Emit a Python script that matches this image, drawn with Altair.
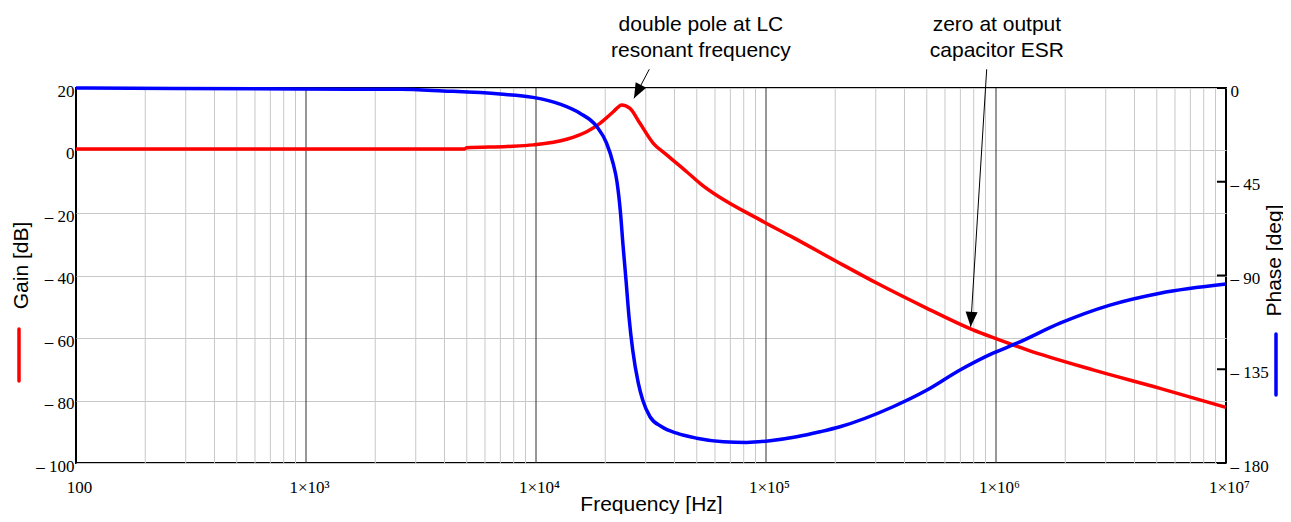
import altair as alt
import pandas as pd

# ---------------- data ----------------
gain_freq = [100, 1000, 4900, 5000, 7480, 9727, 13600, 16600, 18970, 21680,
             23580, 25630, 28310, 32360, 36990, 45190, 51640, 94190, 130900, 203700,
             304100, 501000, 794000, 1009000, 1365000, 2642000, 5164000, 10000000]
gain_db = [0.5, 0.5, 0.5, 0.9, 1.3, 1.8, 3.6, 6.0, 8.7, 12.4,
           14.6, 13.5, 8.7, 2.3, -1.4, -6.8, -10.5, -22.2, -27.8, -35.6,
           -42.5, -50.5, -57.4, -60.3, -63.8, -70.2, -76.1, -82.2]

phase_freq = [100, 942, 2564, 3945, 6966, 9705, 12706, 15524, 18408,
              20256, 21616, 22500, 23302, 23894, 24622, 25370, 26330, 27849, 29101,
              31302, 35198, 40898, 49957, 65223, 82450, 104090, 136000, 171700, 209720,
              356630, 501190, 697430, 970500, 1233800, 1897700, 3130200, 5164200, 10000000]
phase_deg = [0, -0.5, -0.6, -1.4, -2.9, -4.5, -7.7, -12.1, -18.6,
             -26.4, -36.0, -45.1, -60.0, -75.4, -92.2, -109.8, -125.8, -141.7, -149.8,
             -157.8, -162.6, -165.7, -168.1, -169.8, -170.1, -169.3, -167.4, -165.0, -162.6,
             -153.0, -145.0, -135.4, -127.3, -122.5, -112.9, -104.2, -98.5, -94.1]

x_ticks = [100, 1000, 10000, 100000, 1000000, 10000000]
decade_lines = [1000, 10000, 100000, 1000000]
minor_lines = [k * d for d in [100, 1000, 10000, 100000, 1000000] for k in range(2, 10)]
gain_ticks = [20, 0, -20, -40, -60, -80, -100]
phase_ticks = [0, -45, -90, -135, -180]

ann_text = ["double pole at LC", "resonant frequency", "zero at output", "capacitor ESR"]
ann_freq = [52120, 52120, 1009000, 1009000]
ann_gain = [38.3, 30.0, 38.3, 30.0]

arrow_f0 = [31090, 911000]
arrow_g0 = [26.0, 26.0]
arrow_f1 = [26670, 776000]
arrow_g1 = [16.7, -56.4]
arrow_angle = [207.8, 183.6]

# ---------------- styling ----------------
SERIF = "Liberation Serif"
SANS = "Liberation Sans"
W, H = 1150, 375

x_scale = alt.Scale(type="log", domain=[100, 10000000], nice=False)
g_scale = alt.Scale(domain=[-100, 20], nice=False, zero=False)
p_scale = alt.Scale(domain=[-180, 0], nice=False, zero=False)

x_label_expr = ("datum.value < 500 ? '100' : datum.value < 5000 ? '1×10³' : "
                "datum.value < 50000 ? '1×10⁴' : datum.value < 500000 ? '1×10⁵' : "
                "datum.value < 5000000 ? '1×10⁶' : '1×10⁷'")
neg_expr = "datum.value < 0 ? '– ' + abs(datum.value) : '' + datum.value"

x_axis = alt.Axis(values=x_ticks, labelExpr=x_label_expr, grid=False, ticks=False,
                  domain=False, labelFont=SERIF, labelFontSize=17, labelColor="black",
                  labelPadding=16, labelFlush=False, labelOffset=3,
                  title="Frequency [Hz]", titleFont=SANS, titleFontSize=21,
                  titleFontWeight="normal", titleColor="black",
                  titleX=W / 2, titleY=41, titleBaseline="middle", titleAlign="center")

g_axis = alt.Axis(values=gain_ticks, labelExpr=neg_expr, grid=True, gridColor="#c8c8c8",
                  gridWidth=1, ticks=False, domain=False, labelFont=SERIF, labelFontSize=17,
                  labelColor="black", labelPadding=2, labelOffset=3, labelFlush=False,
                  title="Gain [dB]", titleFont=SANS, titleFontSize=21, titleFontWeight="normal",
                  titleColor="black", titleAngle=270, titleX=-55, titleY=177,
                  titleAlign="center", titleBaseline="middle")

p_axis = alt.Axis(values=phase_ticks, labelExpr=neg_expr, grid=False, ticks=False,
                  domain=False, orient="right", labelFont=SERIF, labelFontSize=17,
                  labelColor="black", labelPadding=4, labelOffset=3, labelFlush=False,
                  title="Phase [deg]", titleFont=SANS, titleFontSize=21, titleFontWeight="normal",
                  titleColor="black", titleAngle=270, titleX=48, titleY=172,
                  titleAlign="center", titleBaseline="middle")

gain_df = pd.DataFrame({"f": gain_freq, "g": gain_db})
phase_df = pd.DataFrame({"f": phase_freq, "p": phase_deg})
minor_df = pd.DataFrame({"f": minor_lines})
decade_df = pd.DataFrame({"f": decade_lines})
ann_df = pd.DataFrame({"t": ann_text, "f": ann_freq, "g": ann_gain})
arrow_df = pd.DataFrame({"f0": arrow_f0, "g0": arrow_g0, "f1": arrow_f1,
                         "g1": arrow_g1, "a": arrow_angle})
phase_tick_df = pd.DataFrame({"p": phase_ticks})
one_df = pd.DataFrame({"k": [0]})


def X(field):
    return alt.X(field, scale=x_scale, axis=x_axis)


def GY(field):
    return alt.Y(field, scale=g_scale, axis=g_axis)


def PY(field):
    return alt.Y(field, scale=p_scale, axis=p_axis)


minor = alt.Chart(minor_df).mark_rule(color="#c8c8c8", strokeWidth=1).encode(x=X("f:Q"))
decade = alt.Chart(decade_df).mark_rule(color="#303030", strokeWidth=1).encode(x=X("f:Q"))

gain_line = alt.Chart(gain_df).mark_line(color="#ff0000", strokeWidth=3.5,
                                          interpolate="monotone").encode(
    x=X("f:Q"), y=GY("g:Q"))

arrow_rules = alt.Chart(arrow_df).mark_rule(color="black", strokeWidth=1).encode(
    x=X("f0:Q"), x2="f1:Q", y=GY("g0:Q"), y2="g1:Q")
arrow_heads = alt.Chart(arrow_df).mark_point(
    shape="M0,0L-0.4,1L0.4,1Z", filled=True, color="black", opacity=1, size=900,
    strokeWidth=0).encode(
    x=X("f1:Q"), y=GY("g1:Q"), angle=alt.Angle("a:Q", scale=None))

ann = alt.Chart(ann_df).mark_text(font=SANS, fontSize=21, color="black", align="center",
                                  baseline="alphabetic").encode(
    x=X("f:Q"), y=GY("g:Q"), text="t:N")

red_swatch = alt.Chart(one_df).mark_rule(color="#ff0000", strokeWidth=3.5,
                                         strokeCap="round").encode(
    x=alt.value(-57), y=alt.value(241), y2=alt.value(293))

gain_group = alt.layer(minor, decade, gain_line, arrow_rules, arrow_heads, ann, red_swatch)

phase_line = alt.Chart(phase_df).mark_line(color="#0000ff", strokeWidth=3.5,
                                            interpolate="monotone").encode(
    x=X("f:Q"), y=PY("p:Q"))

phase_tick_marks = alt.Chart(phase_tick_df).mark_rule(color="black", strokeWidth=2).encode(
    y=PY("p:Q"), x=alt.value(W - 9), x2=alt.value(W))

blue_swatch = alt.Chart(one_df).mark_rule(color="#0000ff", strokeWidth=3.5,
                                          strokeCap="round").encode(
    x=alt.value(1200), y=alt.value(246), y2=alt.value(307))

phase_group = alt.layer(phase_line, phase_tick_marks, blue_swatch)

chart = alt.layer(gain_group, phase_group).resolve_scale(y="independent").properties(
    width=W, height=H,
    background="white",
    autosize=alt.AutoSizeParams(type="none"),
    padding={"left": 68, "top": 80, "right": 57, "bottom": 51},
).configure_view(stroke="black", strokeWidth=2)

chart.save("out.html", embed_options={"renderer": "svg", "actions": False})
